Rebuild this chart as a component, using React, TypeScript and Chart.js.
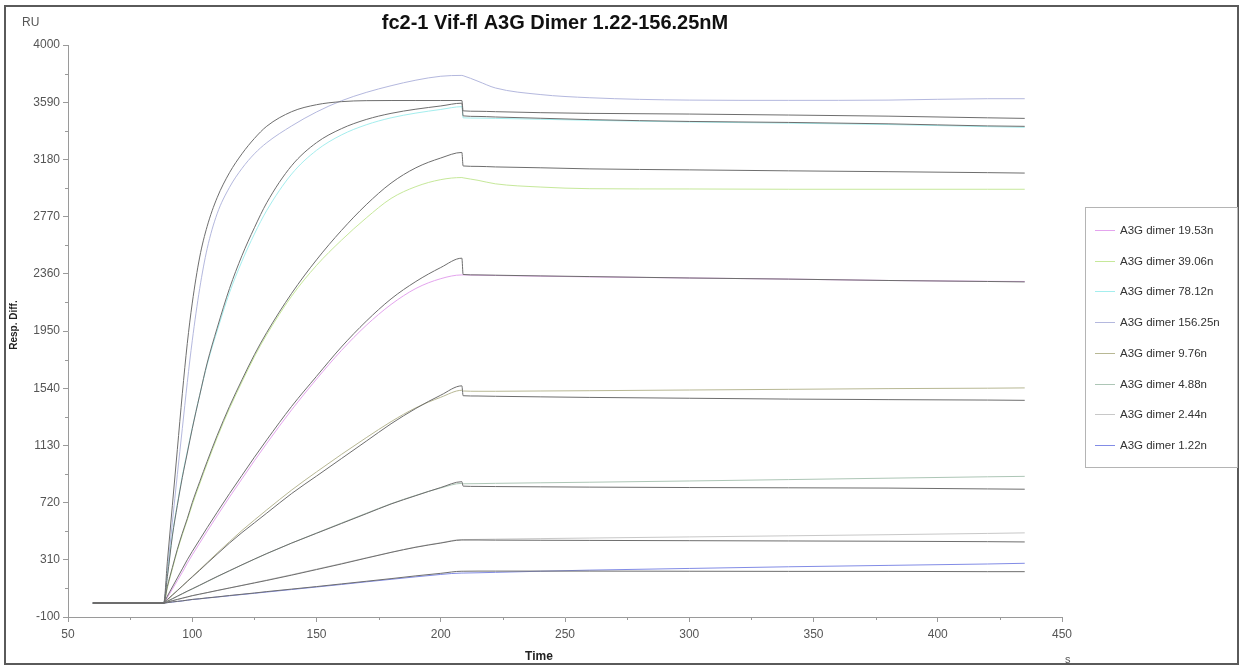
import { useEffect, useRef } from 'react';
import { Chart, registerables } from 'chart.js';

Chart.register(...registerables);

const TITLE = 'fc2-1 Vif-fl A3G Dimer 1.22-156.25nM';
const X_LABEL = 'Time';
const X_UNIT = 's';
const Y_LABEL = 'Resp. Diff.';
const Y_UNIT = 'RU';

const xTicks = [50, 100, 150, 200, 250, 300, 350, 400, 450];
const xMinor = [75, 125, 175, 225, 275, 325, 375, 425];
const yTicks = [-100, 310, 720, 1130, 1540, 1950, 2360, 2770, 3180, 3590, 4000];
const yMinor = [105, 515, 925, 1335, 1745, 2155, 2565, 2975, 3385, 3795];

// time samples (s)
const T = [60, 88.5, 90, 92, 94, 96, 98, 100, 103, 106, 110, 115, 120, 125, 130, 140, 150, 160, 170, 180, 190, 200, 208.5, 209, 215, 222, 240, 260, 300, 340, 380, 420, 435];

// measured curves (RU)
const data19 = [0, 0, 40, 100, 160, 220, 285, 345, 430, 515, 625, 760, 890, 1020, 1145, 1385, 1605, 1810, 1990, 2140, 2255, 2325, 2352, 2352, 2350, 2348, 2343, 2338, 2330, 2322, 2312, 2306, 2305];
const data39 = [0, 0, 110, 245, 375, 490, 595, 705, 855, 1000, 1185, 1395, 1585, 1765, 1925, 2200, 2420, 2600, 2760, 2900, 2985, 3035, 3050, 3048, 3030, 3005, 2982, 2970, 2968, 2966, 2966, 2966, 2966];
const data78 = [0, 0, 200, 490, 710, 910, 1085, 1255, 1490, 1710, 1950, 2225, 2450, 2645, 2815, 3075, 3245, 3355, 3428, 3478, 3512, 3538, 3558, 3478, 3476, 3474, 3468, 3460, 3448, 3440, 3430, 3415, 3410];
const data156 = [0, 0, 230, 580, 920, 1250, 1580, 1880, 2255, 2540, 2790, 2980, 3115, 3220, 3300, 3420, 3520, 3600, 3660, 3708, 3748, 3776, 3782, 3780, 3740, 3692, 3645, 3622, 3605, 3603, 3605, 3615, 3615];
const data976 = [0, 0, 22, 55, 88, 122, 156, 190, 240, 290, 358, 440, 520, 595, 668, 810, 940, 1065, 1185, 1300, 1400, 1475, 1525, 1520, 1518, 1518, 1520, 1522, 1527, 1532, 1537, 1540, 1542];
const data488 = [0, 0, 12, 30, 48, 66, 84, 101, 127, 153, 188, 231, 273, 314, 354, 430, 502, 573, 643, 712, 772, 825, 858, 855, 856, 858, 862, 866, 875, 885, 895, 905, 908];
const data244 = [0, 0, 7, 16, 25, 34, 43, 52, 63, 74, 89, 108, 127, 146, 165, 203, 243, 283, 324, 364, 402, 432, 455, 455, 456, 458, 462, 466, 474, 482, 490, 499, 503];
const data122 = [0, 0, 3, 7, 11, 15, 20, 25, 30, 36, 43, 52, 61, 70, 79, 97, 115, 133, 152, 170, 188, 205, 215, 215, 217, 220, 228, 236, 248, 260, 270, 280, 285];

// fitted curves (RU)
const fit19 = [0, 0, 50, 115, 180, 245, 310, 370, 455, 540, 650, 785, 915, 1045, 1170, 1410, 1625, 1835, 2020, 2180, 2305, 2405, 2472, 2355, 2352, 2350, 2345, 2340, 2330, 2322, 2312, 2305, 2302];
const fit39 = [0, 0, 120, 255, 385, 500, 605, 720, 870, 1015, 1200, 1410, 1600, 1780, 1940, 2220, 2460, 2670, 2855, 3010, 3120, 3190, 3230, 3133, 3130, 3126, 3120, 3112, 3105, 3098, 3092, 3085, 3082];
const fit78 = [0, 0, 190, 480, 700, 900, 1075, 1250, 1490, 1720, 1970, 2255, 2490, 2690, 2870, 3135, 3300, 3400, 3466, 3510, 3540, 3563, 3583, 3492, 3488, 3484, 3475, 3465, 3452, 3445, 3435, 3420, 3417];
const fit156 = [0, 0, 300, 700, 1100, 1500, 1860, 2150, 2480, 2700, 2905, 3085, 3220, 3330, 3418, 3522, 3572, 3594, 3601, 3602, 3602, 3602, 3602, 3528, 3525, 3522, 3515, 3510, 3505, 3498, 3490, 3478, 3474];
const fit976 = [0, 0, 25, 58, 90, 122, 155, 187, 235, 285, 350, 430, 505, 575, 645, 785, 910, 1035, 1160, 1285, 1395, 1490, 1557, 1486, 1484, 1482, 1478, 1474, 1468, 1462, 1458, 1455, 1453];
const fit488 = [0, 0, 13, 31, 49, 67, 85, 102, 128, 155, 190, 232, 274, 315, 355, 430, 500, 570, 640, 710, 770, 828, 870, 838, 836, 835, 833, 831, 828, 826, 824, 818, 816];
const fit244 = [0, 0, 7, 17, 26, 35, 44, 53, 64, 75, 90, 108, 126, 144, 162, 200, 240, 280, 322, 363, 400, 430, 452, 452, 452, 451, 450, 449, 447, 445, 443, 440, 438];
const fit122 = [0, 0, 3, 8, 12, 16, 21, 26, 31, 37, 44, 54, 63, 72, 82, 100, 118, 137, 156, 175, 195, 213, 228, 228, 229, 229, 229, 229, 228, 227, 227, 225, 225];

const seriesLabels = ['A3G dimer 19.53n', 'A3G dimer 39.06n', 'A3G dimer 78.12n', 'A3G dimer 156.25n', 'A3G dimer 9.76n', 'A3G dimer 4.88n', 'A3G dimer 2.44n', 'A3G dimer 1.22n'];
const seriesColors = ['#e4a4ee', '#c6e89a', '#a4eeee', '#b4b8de', '#b8b894', '#adc6b6', '#c8c8c8', '#828ce6'];
const seriesData = [data19, data39, data78, data156, data976, data488, data244, data122];
const fitData = [fit19, fit39, fit78, fit156, fit976, fit488, fit244, fit122];
const FIT_COLOR = '#6e6e6e';

const FONT = '"Liberation Sans", Arial, Helvetica, sans-serif';

const toPts = (vals: number[]) => T.map((t, i) => ({ x: t, y: vals[i] }));

const decor = {
  id: 'decor',
  beforeDraw(chart: any) {
    const ctx = chart.ctx;
    ctx.save();
    ctx.fillStyle = '#ffffff';
    ctx.fillRect(0, 0, chart.width, chart.height);
    ctx.restore();
  },
  afterDraw(chart: any) {
    const ctx = chart.ctx;
    const xs = chart.scales.x;
    const ys = chart.scales.y;
    ctx.save();
    // minor ticks
    ctx.strokeStyle = '#9a9a9a';
    ctx.lineWidth = 1;
    ctx.beginPath();
    for (const v of xMinor) {
      const px = Math.round(xs.getPixelForValue(v)) + 0.5;
      ctx.moveTo(px, ys.bottom);
      ctx.lineTo(px, ys.bottom + 3);
    }
    for (const v of yMinor) {
      const py = Math.round(ys.getPixelForValue(v)) + 0.5;
      ctx.moveTo(xs.left - 3, py);
      ctx.lineTo(xs.left, py);
    }
    ctx.stroke();

    // frame
    ctx.strokeStyle = '#5a5a5a';
    ctx.lineWidth = 2;
    ctx.strokeRect(5, 6, 1233, 658);

    // title
    ctx.fillStyle = '#111111';
    ctx.textAlign = 'center';
    ctx.textBaseline = 'middle';
    ctx.font = 'bold 20px ' + FONT;
    ctx.fillText(TITLE, 555, 23);

    // unit labels
    ctx.fillStyle = '#555555';
    ctx.font = '12px ' + FONT;
    ctx.textAlign = 'left';
    ctx.fillText(Y_UNIT, 22, 23);
    ctx.font = '11px ' + FONT;
    ctx.fillText(X_UNIT, 1065, 660);

    // axis titles
    ctx.fillStyle = '#222222';
    ctx.textAlign = 'center';
    ctx.font = 'bold 12px ' + FONT;
    ctx.fillText(X_LABEL, 539, 657);
    ctx.save();
    ctx.translate(14, 325);
    ctx.rotate(-Math.PI / 2);
    ctx.font = 'bold 10px ' + FONT;
    ctx.fillText(Y_LABEL, 0, 0);
    ctx.restore();

    // legend
    const lx = 1085, ly = 207, lw = 152, lh = 260;
    ctx.fillStyle = '#ffffff';
    ctx.fillRect(lx, ly, lw, lh);
    ctx.strokeStyle = '#b4b4b4';
    ctx.lineWidth = 1;
    ctx.strokeRect(lx + 0.5, ly + 0.5, lw, lh);
    ctx.font = '11.5px ' + FONT;
    ctx.textAlign = 'left';
    ctx.textBaseline = 'middle';
    const sets = chart.data.datasets.slice(0, seriesLabels.length);
    sets.forEach((ds: any, i: number) => {
      const y = Math.round(230 + i * 30.7) + 0.5;
      ctx.strokeStyle = ds.borderColor;
      ctx.beginPath();
      ctx.moveTo(1095, y);
      ctx.lineTo(1115, y);
      ctx.stroke();
      ctx.fillStyle = '#333333';
      ctx.fillText(ds.label, 1120, y);
    });
    ctx.restore();
  },
};

export default function App() {
  const ref = useRef<HTMLCanvasElement>(null);
  useEffect(() => {
    const datasets: any[] = [
      ...seriesLabels.map((label, i) => ({
        label,
        data: toPts(seriesData[i]),
        borderColor: seriesColors[i],
        backgroundColor: seriesColors[i],
        borderWidth: 1,
        pointRadius: 0,
        fill: false,
        cubicInterpolationMode: 'monotone',
        order: 1,
      })),
      ...seriesLabels.map((label, i) => ({
        label: label + ' fit',
        data: toPts(fitData[i]),
        borderColor: FIT_COLOR,
        backgroundColor: FIT_COLOR,
        borderWidth: 1,
        pointRadius: 0,
        fill: false,
        cubicInterpolationMode: 'monotone',
        order: 0,
      })),
    ];
    const chart = new Chart(ref.current as HTMLCanvasElement, {
      type: 'line',
      data: { datasets },
      options: {
        responsive: false,
        maintainAspectRatio: false,
        animation: false,
        events: [],
        layout: { padding: { left: 0, top: 45, right: 179, bottom: 0 } },
        plugins: {
          legend: { display: false },
          title: { display: false },
          tooltip: { enabled: false },
        },
        scales: {
          x: {
            type: 'linear',
            min: 50,
            max: 450,
            afterBuildTicks: (s: any) => { s.ticks = xTicks.map((v) => ({ value: v })); },
            afterFit: (s: any) => { s.height = 51; },
            ticks: {
              autoSkip: false,
              maxRotation: 0,
              padding: 5,
              color: '#555555',
              font: { family: FONT, size: 12 },
              callback: (v: any) => String(v),
            },
            grid: { drawOnChartArea: false, drawTicks: true, tickLength: 5, color: '#9a9a9a' },
            border: { display: true, color: '#9a9a9a' },
          },
          y: {
            type: 'linear',
            min: -100,
            max: 4000,
            afterBuildTicks: (s: any) => { s.ticks = yTicks.map((v) => ({ value: v })); },
            afterFit: (s: any) => { s.width = 68; },
            ticks: {
              autoSkip: false,
              padding: 3,
              color: '#555555',
              font: { family: FONT, size: 12 },
              callback: (v: any) => String(v),
            },
            grid: { drawOnChartArea: false, drawTicks: true, tickLength: 5, color: '#9a9a9a' },
            border: { display: true, color: '#9a9a9a' },
          },
        },
      },
      plugins: [decor],
    });
    return () => chart.destroy();
  }, []);
  return (
    <div style={{ position: 'fixed', left: 0, top: 0, width: 1241, height: 668, background: '#fff' }}>
      <canvas ref={ref} width={1241} height={668} style={{ display: 'block' }} />
    </div>
  );
}
